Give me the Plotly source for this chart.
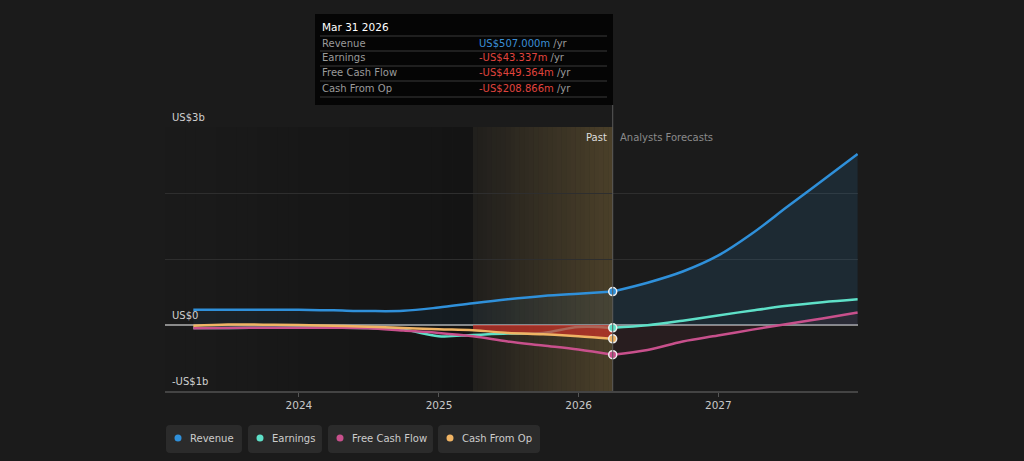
import plotly.graph_objects as go

# quarterly values in US$ millions
past_dates = ["2023-03-31", "2023-06-30", "2023-09-30", "2023-12-31",
              "2024-03-31", "2024-06-30", "2024-09-30", "2024-12-31",
              "2025-03-31", "2025-06-30", "2025-09-30", "2025-12-31", "2026-03-31"]
revenue_past = [230, 232, 232, 230, 222, 212, 215, 265, 330, 390, 440, 475, 507.000]
earnings_past = [-45, -45, -42, -38, -40, -45, -70, -170, -150, -130, -120, -30, -43.337]
fcf_past = [-50, -45, -42, -40, -42, -50, -85, -120, -170, -250, -310, -370, -449.364]
cfo_past = [-10, 8, 5, 0, -10, -25, -45, -65, -80, -120, -140, -170, -208.866]

fc_dates = ["2026-03-31", "2026-06-30", "2026-09-30", "2026-12-31",
            "2027-03-31", "2027-06-30", "2027-09-30", "2027-12-31"]
revenue_fc = [507.000, 640, 810, 1050, 1390, 1790, 2190, 2590]
earnings_fc = [-43.337, -5, 65, 145, 220, 290, 345, 390]
fcf_fc = [-449.364, -380, -250, -160, -70, 15, 100, 190]

series_names = ["Revenue", "Earnings", "Free Cash Flow", "Cash From Op"]
series_colors = ["#2f90da", "#5ee0c8", "#c8508c", "#f0b464"]

year_ticks = ["2024-01-01", "2025-01-01", "2026-01-01", "2027-01-01"]
year_labels = ["2024", "2025", "2026", "2027"]
y_ticks = [-1000, 0, 1000, 2000, 3000]
y_labels = {-1000: "-US$1b", 0: "US$0", 3000: "US$3b"}

last_year_start = "2025-03-31"
as_of = "2026-03-31"
as_of_label = "Mar 31 2026"

BG = "#1b1b1b"
FONT = "DejaVu Sans"
# plot box in page pixels
L, R, T, B = 165, 858, 127, 391


def px(x):
    return (x - L) / (R - L)


def py(y):
    return (B - y) / (B - T)


def rrect(x0, y0, x1, y1, r=4):
    pts = [("M", x0 + r, y0), ("L", x1 - r, y0), ("Q", x1, y0, x1, y0 + r),
           ("L", x1, y1 - r), ("Q", x1, y1, x1 - r, y1), ("L", x0 + r, y1),
           ("Q", x0, y1, x0, y1 - r), ("L", x0, y0 + r), ("Q", x0, y0, x0 + r, y0)]
    out = ""
    for p in pts:
        cmd, coords = p[0], p[1:]
        xy = [f"{px(coords[i]):.5f},{py(coords[i + 1]):.5f}" for i in range(0, len(coords), 2)]
        out += cmd + " " + " ".join(xy) + " "
    return out + "Z"


def fmt(v):
    s = f"US${abs(v):,.3f}m"
    return "-" + s if v < 0 else s


def label(x, y, text, color, size, anchor="left", yref="paper", **kw):
    return dict(xref="paper", yref=yref, x=x, y=y, text=text, showarrow=False,
                xanchor=anchor, yanchor=kw.pop("yanchor", "middle"), borderpad=0, borderwidth=0,
                font=dict(color=color, size=size, family=FONT), **kw)


rev_c, earn_c, fcf_c, cfo_c = series_colors
fig = go.Figure()

# revenue area + line
fig.add_trace(go.Scatter(x=past_dates, y=revenue_past, mode="lines", line=dict(color=rev_c, width=2.5, shape="spline"),
                         fill="tozeroy", fillcolor="rgba(47,144,218,0.07)", hoverinfo="skip"))
fig.add_trace(go.Scatter(x=fc_dates, y=revenue_fc, mode="lines", line=dict(color=rev_c, width=2.5, shape="spline"),
                         fill="tozeroy", fillcolor="rgba(47,144,218,0.13)", hoverinfo="skip"))
fig.add_trace(go.Scatter(x=fc_dates, y=fcf_fc, mode="lines", line=dict(color=fcf_c, width=2.5, shape="spline"),
                         fill="tozeroy", fillcolor="rgba(200,60,90,0.08)", hoverinfo="skip"))

# earnings
fig.add_trace(go.Scatter(x=past_dates, y=earnings_past, mode="lines",
                         line=dict(color=earn_c, width=2.5, shape="spline"), hoverinfo="skip"))
fig.add_trace(go.Scatter(x=fc_dates, y=earnings_fc, mode="lines",
                         line=dict(color=earn_c, width=2.5, shape="spline"), hoverinfo="skip"))

# red area for the last reported year
ly = [i for i, d in enumerate(past_dates) if d >= last_year_start]
fig.add_trace(go.Scatter(x=[past_dates[i] for i in ly], y=[cfo_past[i] for i in ly], mode="lines",
                         line=dict(width=0, shape="spline"), fill="tozeroy",
                         fillcolor="rgba(205,50,40,0.7)", hoverinfo="skip"))

fig.add_trace(go.Scatter(x=past_dates, y=fcf_past, mode="lines",
                         line=dict(color=fcf_c, width=2.5, shape="spline"), hoverinfo="skip"))
fig.add_trace(go.Scatter(x=past_dates, y=cfo_past, mode="lines",
                         line=dict(color=cfo_c, width=2.5, shape="spline"), hoverinfo="skip"))

# end-of-history markers
last_vals = [revenue_past[-1], earnings_past[-1], fcf_past[-1], cfo_past[-1]]
fig.add_trace(go.Scatter(x=[as_of] * 4, y=last_vals, mode="markers",
                         marker=dict(size=8, color=series_colors, line=dict(color="#eeeeee", width=1.5)),
                         hoverinfo="skip"))

shapes = []
# darkening gradient before the last year, golden gradient over the last year
n = 30
for i in range(n):
    a0 = L + (473 - L) * i / n
    a1 = L + (473 - L) * (i + 1) / n
    shapes.append(dict(type="rect", xref="paper", yref="paper", x0=px(a0), x1=px(a1), y0=0, y1=1,
                       fillcolor=f"rgba(0,0,0,{0.25 * (i + 0.5) / n:.3f})", line_width=0, layer="below"))
for i in range(n):
    a0 = 473 + (613 - 473) * i / n
    a1 = 473 + (613 - 473) * (i + 1) / n
    shapes.append(dict(type="rect", xref="paper", yref="paper", x0=px(a0), x1=px(a1), y0=0, y1=1,
                       fillcolor=f"rgba(200,160,80,{0.03 + 0.25 * (i + 0.5) / n:.3f})", line_width=0, layer="below"))

# past / forecast divider
shapes.append(dict(type="line", xref="x", yref="paper", x0=as_of, x1=as_of, y0=0, y1=py(105),
                   line=dict(color="#5a5a5a", width=1)))

# tooltip box
shapes.append(dict(type="rect", xref="paper", yref="paper", x0=px(315), x1=px(613), y0=py(105), y1=py(14),
                   fillcolor="#050505", line_width=0))
for sy in [36, 51, 66, 81, 97]:
    shapes.append(dict(type="line", xref="paper", yref="paper", x0=px(320), x1=px(607), y0=py(sy), y1=py(sy),
                       line=dict(color="#3a3a3a", width=1)))

annotations = [label(px(322), py(27), as_of_label, "#ffffff", 10.5)]
row_y = [43, 58, 73, 89]
for name, val, yy in zip(series_names, last_vals, row_y):
    vcol = "#3b8fd6" if val >= 0 else "#e0443e"
    annotations.append(label(px(322), py(yy), name, "#9a9a9a", 10))
    annotations.append(label(px(479), py(yy), f'<span style="color:{vcol}">{fmt(val)}</span> /yr', "#9a9a9a", 10))

annotations.append(label(px(607), py(137), "Past", "#dddddd", 10, anchor="right"))
annotations.append(label(px(620), py(137), "Analysts Forecasts", "#8a8a8a", 10))

# y labels sit just above their gridline
for v, t in y_labels.items():
    annotations.append(label(px(172), v, t, "#cfcfcf", 10, yref="y", yanchor="bottom", yshift=4))

# legend chips
chips = [(166, 242), (248, 322), (328, 433), (438, 540)]
for (x0, x1), name, col in zip(chips, series_names, series_colors):
    shapes.append(dict(type="path", xref="paper", yref="paper", path=rrect(x0, 425, x1, 453),
                       fillcolor="#2b2b2b", line_width=0))
    cx = x0 + 12
    shapes.append(dict(type="circle", xref="paper", yref="paper", x0=px(cx - 3.5), x1=px(cx + 3.5),
                       y0=py(438 + 3.5), y1=py(438 - 3.5), fillcolor=col, line_width=0))
    annotations.append(label(px(x0 + 24), py(438), name, "#cccccc", 10))

fig.update_layout(
    width=1024, height=461,
    margin=dict(l=L, r=1024 - R, t=T, b=461 - B),
    paper_bgcolor=BG, plot_bgcolor=BG,
    showlegend=False,
    shapes=shapes, annotations=annotations,
    font=dict(family=FONT, color="#cccccc"),
)
fig.update_xaxes(range=["2023-01-16", "2028-01-01"], tickvals=year_ticks, ticktext=year_labels,
                 showgrid=False, showline=True, linecolor="#444444", linewidth=1.5,
                 ticks="outside", ticklen=4, tickcolor="#555555",
                 tickfont=dict(color="#c8c8c8", size=10.5, family=FONT), zeroline=False)
fig.update_yaxes(range=[-1000, 3000], tickvals=y_ticks, showticklabels=False,
                 showgrid=True, gridcolor="#2e2e2e", gridwidth=1,
                 zeroline=True, zerolinecolor="#8a8a8a", zerolinewidth=1.5)

# drop the default page margin so the figure fills the window
fig.write_html("out.html", config={"displayModeBar": False},
               post_script=f"document.body.style.margin='0';document.body.style.background='{BG}';")
